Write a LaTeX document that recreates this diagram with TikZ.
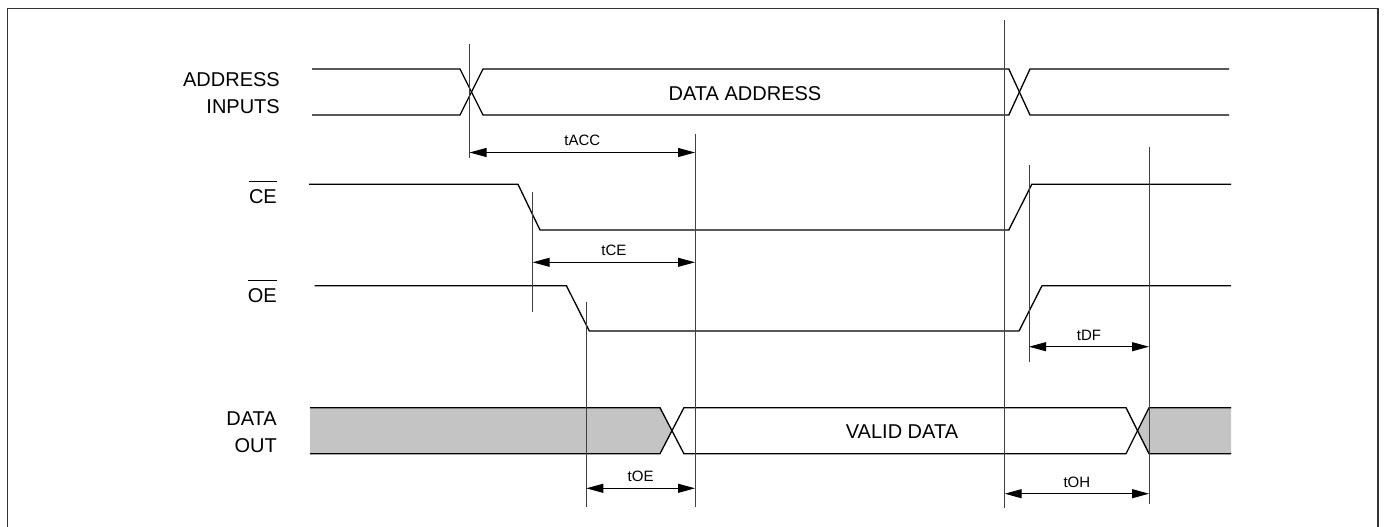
\documentclass[tikz,border=0pt]{standalone}
\usepackage{amsmath}
\usepackage{fontspec}
\setmainfont{Liberation Sans}
\usepackage{tikz}
\usetikzlibrary{arrows.meta,calc}

\newcommand{\barsig}[1]{$\overline{\hbox{\rule{0pt}{18.5pt}#1}}$}

\begin{document}
\begin{tikzpicture}[x=1pt,y=-1pt,>={Triangle[length=17pt,width=9pt]},
  sig line/.style={line width=1.3pt,line join=miter},
  time line/.style={draw=black!75,line width=0.9pt},
  dim line/.style={draw,<->,line width=1pt},
  big label/.style={font=\fontsize{20}{27}\selectfont,align=right,inner sep=0pt},
  dim label/.style={font=\fontsize{15}{17}\selectfont,above=6pt,inner sep=0pt},
  bus fill/.style={fill=black!23}]

\useasboundingbox (0,0) rectangle (1384,527);
\draw[line width=1.6pt,draw=black!80] (7.5,540) -- (7.5,8.5) -- (1378,8.5) -- (1378,540);

% signal names
\node[big label,anchor=east] (addr) at (280,93) {ADDRESS\\INPUTS};
\node[big label,anchor=base east] (ce) at (277,203) {\barsig{CE}};
\node[big label,anchor=base east] (oe) at (277,302) {\barsig{OE}};
\node[big label,anchor=east] (dout) at (277,432) {DATA\\OUT};

% waveforms
\fill[bus fill] (310,407.7) -- (660,407.7) -- (671.8,430.7) -- (660,453.7) -- (310,453.7) -- cycle;
\fill[bus fill] (1231,407.7) -- (1149,407.7) -- (1137.5,430.7) -- (1149,453.7) -- (1231,453.7) -- cycle;
\draw[sig line] (312,69) -- (460,69) -- (483,115) -- (1008.8,115) -- (1030,69) -- (1229,69);
\draw[sig line] (312,115) -- (460,115) -- (483,69) -- (1008.8,69) -- (1030,115) -- (1229,115);
\draw[sig line] (309,184.3) -- (518,184.3) -- (540,230) -- (1008.8,230) -- (1031.8,184.3) -- (1231,184.3);
\draw[sig line] (314.6,285.7) -- (566.4,285.7) -- (589.3,331) -- (1019,331) -- (1042,285.7) -- (1231,285.7);
\draw[sig line] (310,407.7) -- (660,407.7) -- (683.9,453.7) -- (1126,453.7) -- (1149,407.7) -- (1231,407.7);
\draw[sig line] (310,453.7) -- (660,453.7) -- (683.9,407.7) -- (1126,407.7) -- (1149,453.7) -- (1231,453.7);

\node[big label,align=center] (adata) at (745,93.5) {DATA ADDRESS};
\node[big label,align=center] (vdata) at (902,432) {VALID DATA};

% timing marks
\coordinate (v1t) at (469.5,44);   \coordinate (v1b) at (469.5,158);
\coordinate (v2t) at (695,134);    \coordinate (v2b) at (695,507);
\coordinate (v3t) at (532.7,191.7);\coordinate (v3b) at (532.7,311.7);
\coordinate (v4t) at (586.3,301.7);\coordinate (v4b) at (586.3,507);
\coordinate (v5t) at (1004.7,20);  \coordinate (v5b) at (1004.7,508);
\coordinate (v6t) at (1029,165);   \coordinate (v6b) at (1029,362);
\coordinate (v7t) at (1149,147);   \coordinate (v7b) at (1149,504);

\path
(v1t) edge [time line] (v1b)
(v2t) edge [time line] (v2b)
(v3t) edge [time line] (v3b)
(v4t) edge [time line] (v4b)
(v5t) edge [time line] (v5b)
(v6t) edge [time line] (v6b)
(v7t) edge [time line] (v7b);

\coordinate (acc1) at (469.5,152.5); \coordinate (acc2) at (695,152.5);
\coordinate (ce1) at (532.7,262.3);  \coordinate (ce2) at (695,262.3);
\coordinate (df1) at (1029,346.7);   \coordinate (df2) at (1149,346.7);
\coordinate (oe1) at (586.3,488.3);  \coordinate (oe2) at (695,488.3);
\coordinate (oh1) at (1004.7,493.7); \coordinate (oh2) at (1149,493.7);

\path
(acc1) edge [dim line] node[dim label] {tACC} (acc2)
(ce1) edge [dim line] node[dim label] {tCE} (ce2)
(df1) edge [dim line] node[dim label] {tDF} (df2)
(oe1) edge [dim line] node[dim label] {tOE} (oe2)
(oh1) edge [dim line] node[dim label] {tOH} (oh2);
\end{tikzpicture}
\end{document}
